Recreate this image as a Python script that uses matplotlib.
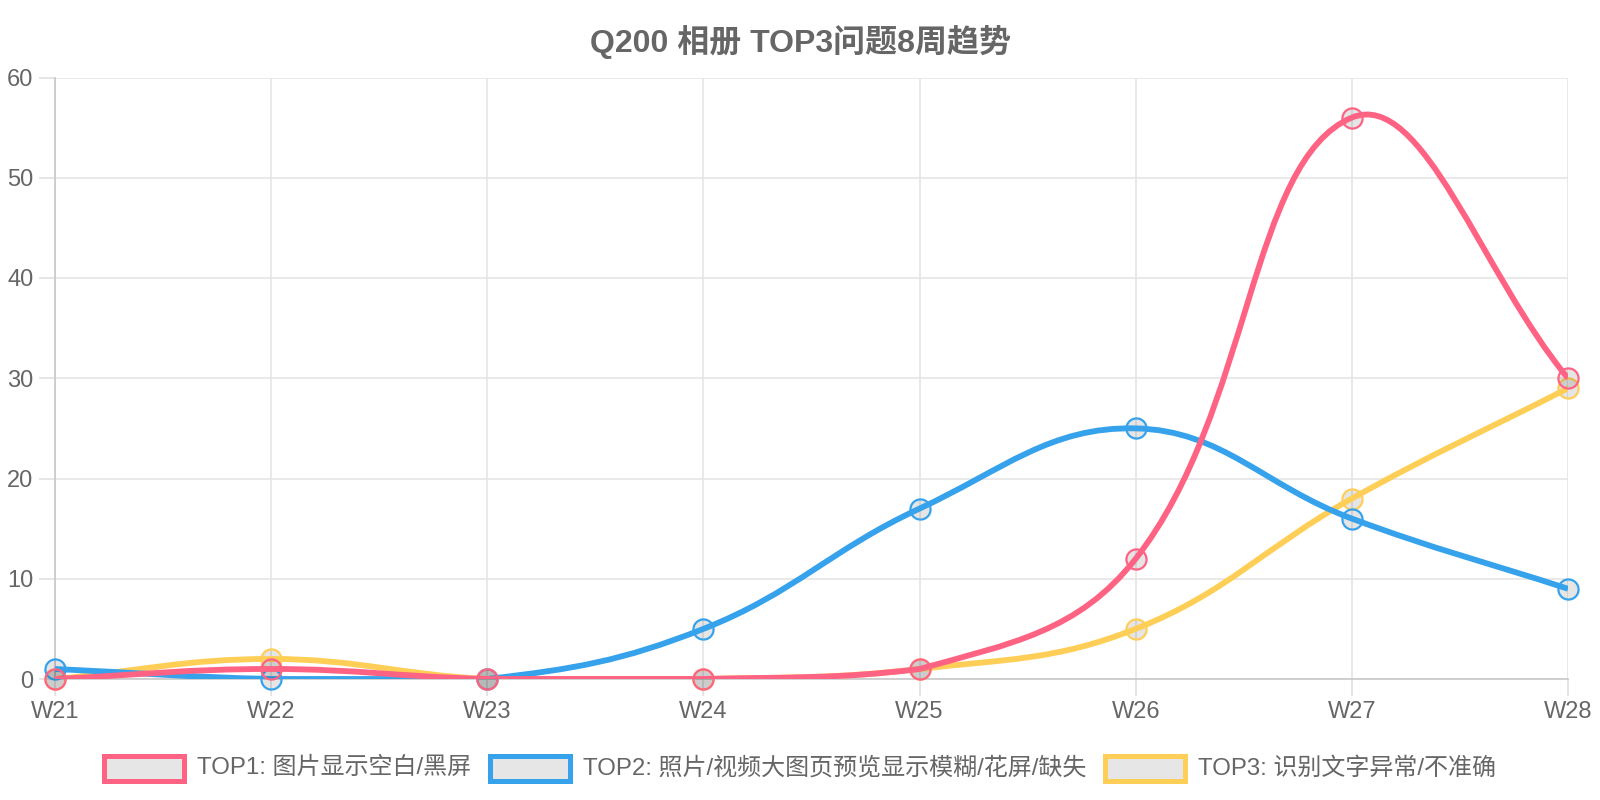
import numpy as np
import matplotlib
matplotlib.use('Agg')
import matplotlib.pyplot as plt
from matplotlib.path import Path
from matplotlib.patches import PathPatch, Rectangle

plt.rcParams['font.family'] = ['Liberation Sans', 'Noto Sans CJK SC', 'DejaVu Sans']

weeks = ['W21', 'W22', 'W23', 'W24', 'W25', 'W26', 'W27', 'W28']
top1 = [0, 1, 0, 0, 1, 12, 56, 30]
top2 = [1, 0, 0, 5, 17, 25, 16, 9]
top3 = [0, 2, 0, 0, 1, 5, 18, 29]
labels = ['TOP1: 图片显示空白/黑屏', 'TOP2: 照片/视频大图页预览显示模糊/花屏/缺失', 'TOP3: 识别文字异常/不准确']
colors = ['#FF6384', '#36A2EB', '#FFCE56']
title = 'Q200 相册 TOP3问题8周趋势'
text_col = '#666666'

W, H = 1600, 800
ax_l, ax_r, ax_t, ax_b = 55, 1568, 77.5, 679
ymax = 60

fig = plt.figure(figsize=(16, 8), dpi=100)
ax = fig.add_axes([ax_l / W, 1 - ax_b / H, (ax_r - ax_l) / W, (ax_b - ax_t) / H])

n = len(weeks)
sx = (ax_r - ax_l) / (n - 1)
sy = (ax_b - ax_t) / ymax


def spline_path(ys, t=0.4):
    # chart.js style bezier, worked out in pixel space
    p = np.column_stack([np.arange(n) * sx, np.array(ys, float) * sy])
    cp_prev = np.zeros_like(p)
    cp_next = np.zeros_like(p)
    for i in range(n):
        a = p[max(i - 1, 0)]
        b = p[i]
        c = p[min(i + 1, n - 1)]
        d01 = np.hypot(*(b - a))
        d12 = np.hypot(*(c - b))
        tot = d01 + d12
        s01 = d01 / tot if tot else 0
        s12 = d12 / tot if tot else 0
        cp_prev[i] = b - t * s01 * (c - a)
        cp_next[i] = b + t * s12 * (c - a)
    lo = np.array([0, 0])
    hi = np.array([(n - 1) * sx, ymax * sy])
    cp_prev = np.clip(cp_prev, lo, hi)
    cp_next = np.clip(cp_next, lo, hi)
    verts = [p[0]]
    codes = [Path.MOVETO]
    for i in range(n - 1):
        verts += [cp_next[i], cp_prev[i + 1], p[i + 1]]
        codes += [Path.CURVE4] * 3
    verts = np.array(verts) / np.array([sx, sy])
    return Path(verts, codes)


series = [top1, top2, top3]
for k in range(2, -1, -1):
    z = 3 + (2 - k) * 2
    ax.plot(range(n), series[k], 'o', ms=14.5, mfc=(0, 0, 0, 0.1), mec=colors[k],
            mew=1.6, ls='none', clip_on=False, zorder=z)
    ax.add_patch(PathPatch(spline_path(series[k]), fill=False, ec=colors[k],
                           lw=4.2, capstyle='butt', joinstyle='round', zorder=z + 1))

ax.set_xlim(0, n - 1)
ax.set_ylim(0, ymax)
ax.set_xticks(range(n))
ax.set_xticklabels(weeks)
ax.set_yticks(range(0, ymax + 1, 10))
ax.grid(True, color='#e5e5e5', lw=1.2)
ax.set_axisbelow(True)
for s in ['top', 'right']:
    ax.spines[s].set_visible(False)
for s in ['left', 'bottom']:
    ax.spines[s].set_color('#c8c8c8')
    ax.spines[s].set_linewidth(1.2)
ax.tick_params(axis='both', colors='#e0e0e0', labelcolor=text_col, labelsize=17,
               width=1.2)
ax.tick_params(axis='x', length=12, pad=4)
ax.tick_params(axis='y', length=11.5, pad=4)

fig.text(0.5, 1 - 42 / H, title, ha='center', va='center', fontsize=23,
         fontweight='bold', color=text_col)

# legend, laid out centred like chart.js
fs = 17.3
box_w, box_h, gap, pad = 80, 25, 13, 19
renderer = fig.canvas.get_renderer()
tw = []
for lab in labels:
    tt = fig.text(0, 0, lab, fontsize=fs)
    tw.append(tt.get_window_extent(renderer).width)
    tt.remove()
total = sum(box_w + gap + w for w in tw) + pad * (len(labels) - 1)
x = (W - total) / 2
ly = 768
for lab, c, w in zip(labels, colors, tw):
    fig.patches.append(Rectangle((x / W, 1 - (ly + box_h / 2) / H), box_w / W, box_h / H,
                                 transform=fig.transFigure, fc='#e6e6e6', ec=c, lw=3.6))
    fig.text((x + box_w + gap) / W, 1 - ly / H, lab, fontsize=fs, color=text_col,
             ha='left', va='center')
    x += box_w + gap + w + pad

fig.savefig('out.png', dpi=100)
